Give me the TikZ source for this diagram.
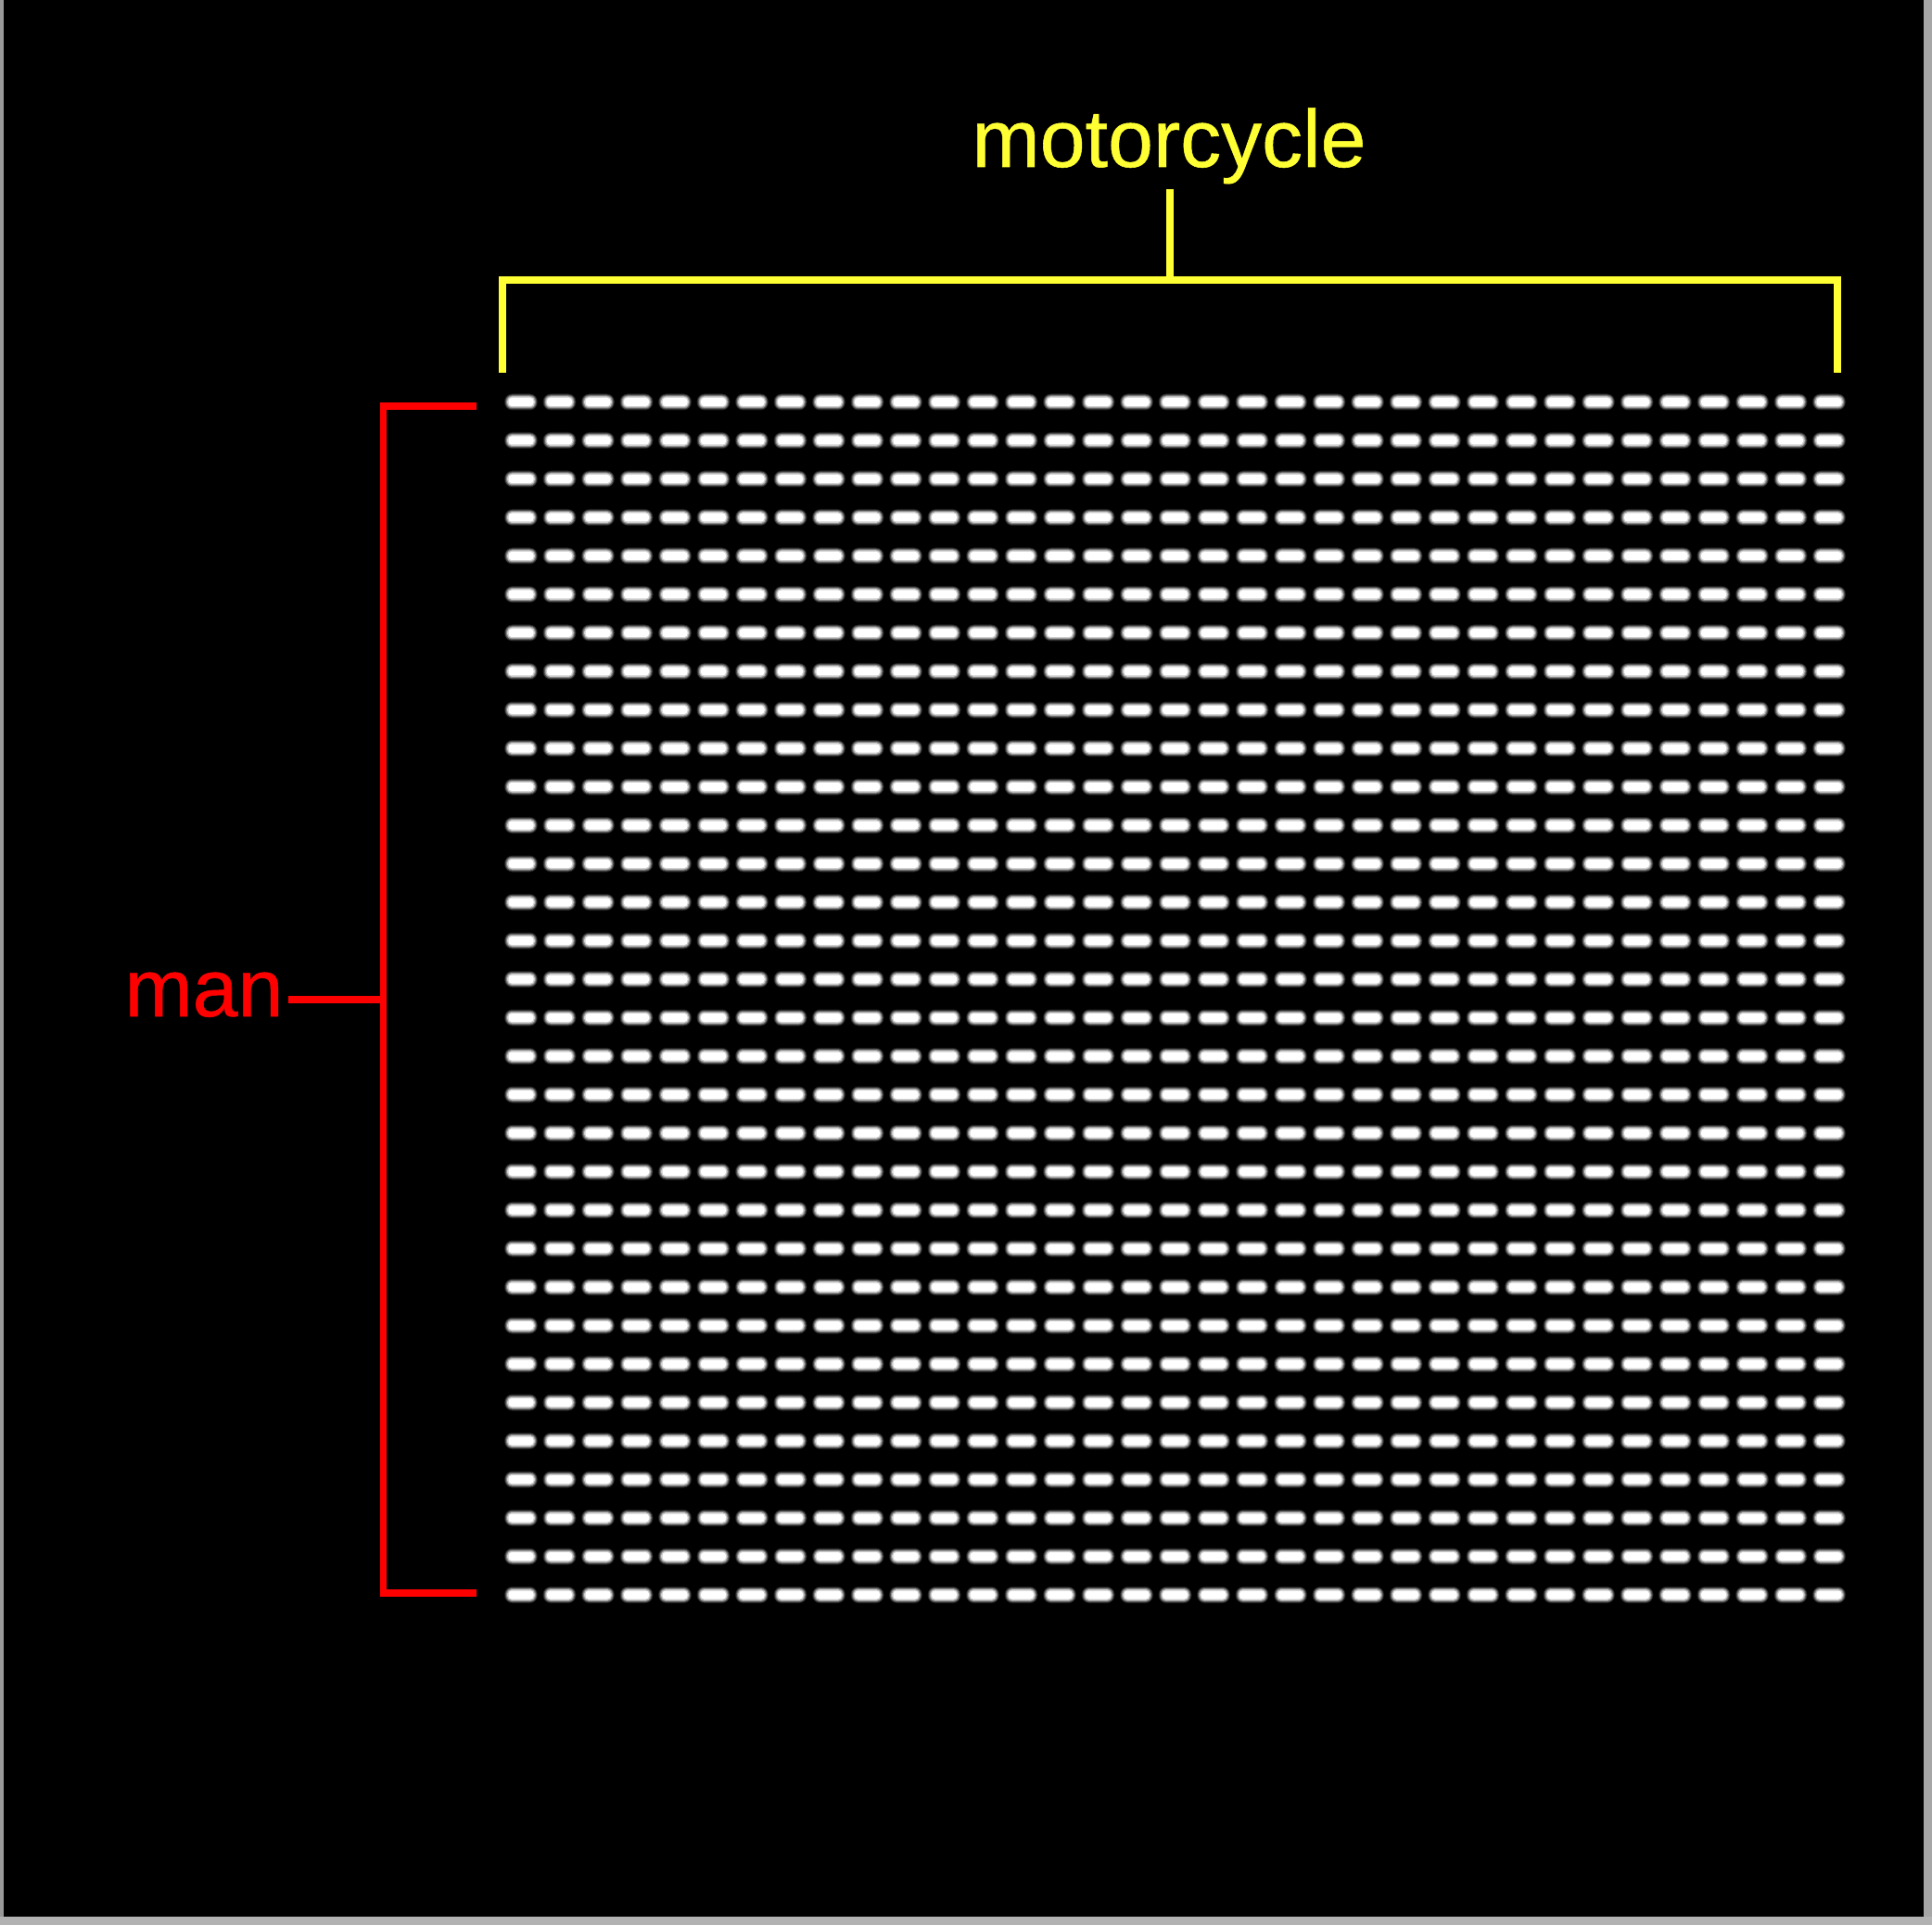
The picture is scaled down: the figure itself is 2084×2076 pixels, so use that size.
\documentclass[tikz,border=0pt]{standalone}
\usepackage{fontspec}
\setmainfont{Liberation Sans}
\newfontfamily\lblfont{Liberation Sans}[RawFeature={embolden=0.6}]
\usetikzlibrary{positioning}
\definecolor{lblyellow}{RGB}{255,255,51}
\definecolor{lblred}{RGB}{255,0,0}
\tikzset{
  bracketln/.style={line width=0.075cm, line cap=butt, line join=miter},
  lbltext/.style={font=\lblfont\fontsize{25}{30}\selectfont, inner sep=0.5mm},
}
\newcommand{\glowdash}[1]{%
  \begin{scope}[shift={#1}]
    \fill[black!88, rounded corners=2.5pt] (-18,-9) rectangle (18,9);
    \fill[black!70, rounded corners=2pt] (-17,-8) rectangle (17,8);
    \fill[black!45, rounded corners=1.8pt] (-16,-7) rectangle (16,7);
    \fill[black!20, rounded corners=1.5pt] (-15,-6) rectangle (15,6);
    \fill[white, rounded corners=1pt] (-13.5,-4.5) rectangle (13.5,4.5);
  \end{scope}
}

\begin{document}
\begin{tikzpicture}[x=0.01cm, y=-0.01cm]
    % canvas and frame
    \useasboundingbox (0,0) rectangle (2084,2076);
    \fill[black] (0,0) rectangle (2084,2076);
    \fill[gray!80] (0,0) rectangle (4,2076);
    \fill[gray!70] (2075,0) rectangle (2084,2076);
    \fill[gray!60] (0,2067) rectangle (2084,2076);
    % grid of dashes
    \foreach \r in {0,...,31} {
      \foreach \c in {0,...,34} {
        \glowdash{(562+41.5*\c, 433.5+41.5*\r)}
      }
    }
    % motorcycle bracket
    \node[lbltext, lblyellow, anchor=base] (moto) at (1261,180) {motorcycle};
    \coordinate (motoL) at (542,402);
    \coordinate (motoLt) at (542,302);
    \coordinate (motoM) at (1262,302);
    \coordinate (motoRt) at (1982,302);
    \coordinate (motoR) at (1982,402);
    \draw[bracketln, lblyellow] (motoL) -- (motoLt) -- (motoRt) -- (motoR);
    \draw[bracketln, lblyellow] (moto.south -| motoM) -- (motoM);
    % man bracket
    \node[lbltext, lblred, anchor=base] (man) at (220,1096) {man};
    \coordinate (manT) at (514,438);
    \coordinate (manTc) at (413.5,438);
    \coordinate (manM) at (413.5,1078);
    \coordinate (manBc) at (413.5,1718);
    \coordinate (manB) at (514,1718);
    \draw[bracketln, lblred] (manT) -- (manTc) -- (manBc) -- (manB);
    \draw[bracketln, lblred] (man.east |- manM) -- (manM);
\end{tikzpicture}
\end{document}
